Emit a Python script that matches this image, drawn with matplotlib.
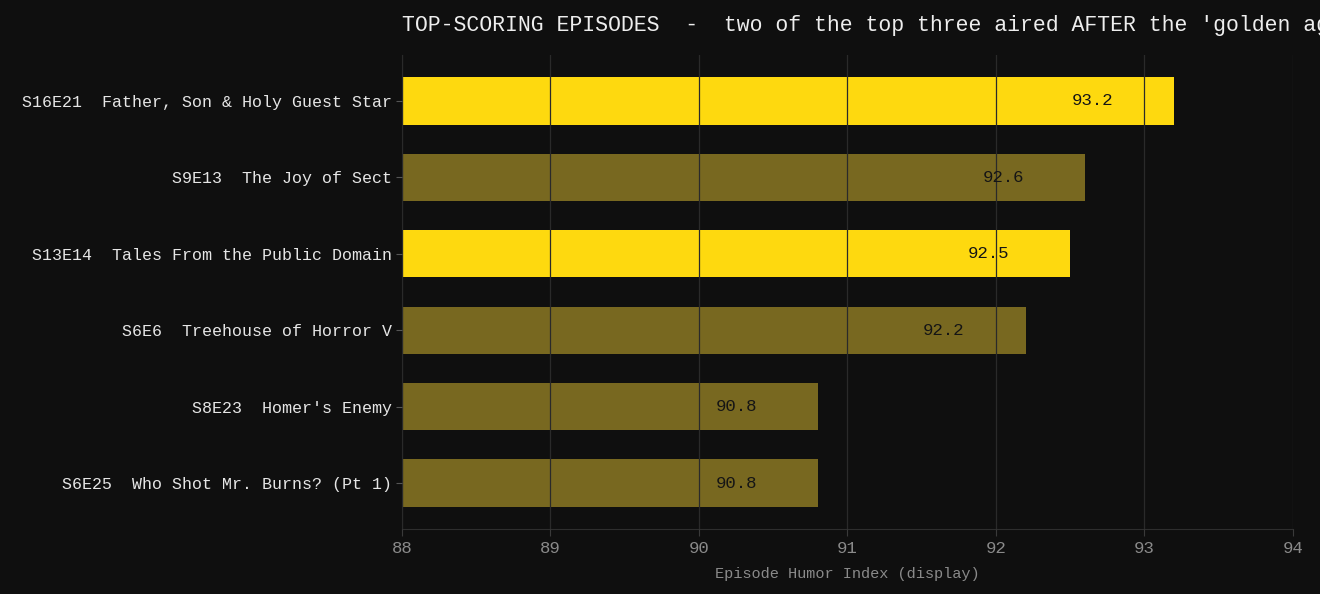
import numpy as np
import matplotlib
matplotlib.use("Agg")
import matplotlib.pyplot as plt

episodes = ["S16E21  Father, Son & Holy Guest Star",
            "S9E13  The Joy of Sect",
            "S13E14  Tales From the Public Domain",
            "S6E6  Treehouse of Horror V",
            "S8E23  Homer's Enemy",
            "S6E25  Who Shot Mr. Burns? (Pt 1)"]
scores = [93.2, 92.6, 92.5, 92.2, 90.8, 90.8]
post_golden = [True, False, True, False, False, False]

bg = "#0f0f0f"
bright = "#fed90f"
dim = "#786820"

plt.rcParams['font.family'] = ['Liberation Mono', 'DejaVu Sans Mono']

fig = plt.figure(figsize=(13.2, 5.94), dpi=100, facecolor=bg)
ax = fig.add_axes([0.3045, 0.1094, 0.9795 - 0.3045, 0.9074 - 0.1094])
ax.set_facecolor(bg)

y = np.arange(len(episodes))
colors = [bright if p else dim for p in post_golden]
ax.barh(y, np.array(scores) - 88, left=88, height=0.62, color=colors, zorder=1)

for yi, s in zip(y, scores):
    ax.text(s - 0.55, yi, f"{s:.1f}", ha="center", va="center",
            fontsize=12.5, color="#151515", zorder=3)

ax.set_xlim(88, 94)
ax.set_ylim(len(episodes) - 0.4, -0.6)
ax.set_yticks(y)
ax.set_yticklabels(episodes, fontsize=12)
ax.set_xticks(range(88, 95))
ax.tick_params(axis="x", color="#3a3a3a", labelcolor="#8a8a8a", labelsize=12.5, length=5)
ax.tick_params(axis="y", color="#555555", labelcolor="#e6e6e6", length=4)

ax.grid(axis="x", color="#2a2a2a", linewidth=0.9, zorder=2)
ax.set_axisbelow(False)
for side in ["top", "right"]:
    ax.spines[side].set_visible(False)
ax.spines["bottom"].set_color("#2e2e2e")
ax.spines["left"].set_color("#2e2e2e")

ax.set_xlabel("Episode Humor Index (display)", fontsize=11, color="#8a8a8a", labelpad=8)
ax.set_title("TOP-SCORING EPISODES  -  two of the top three aired AFTER the 'golden age'",
             loc="left", fontsize=15.5, color="#eeeeee", pad=17)

fig.savefig("out.png", dpi=100, facecolor=bg)
